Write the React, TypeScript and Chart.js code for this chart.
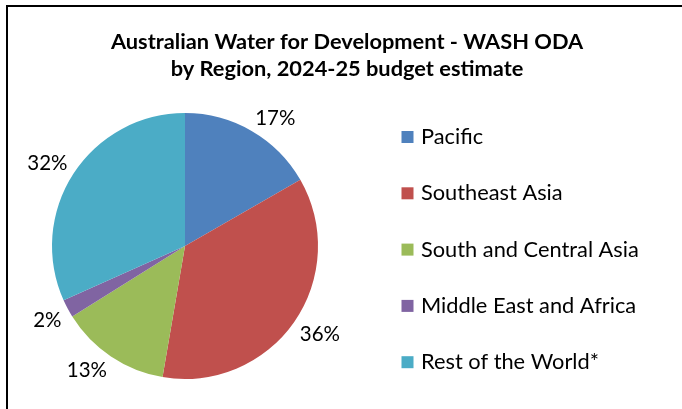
import React, { useEffect, useRef } from "react";
import { Chart, registerables } from "chart.js";

Chart.register(...registerables);

const TITLE_LINES = ["Australian Water for Development - WASH ODA", "by Region, 2024-25 budget estimate"];
const REGIONS = ["Pacific", "Southeast Asia", "South and Central Asia", "Middle East and Africa", "Rest of the World*"];
const SHARES = [16.7, 36.0, 13.4, 2.2, 31.7];
const COLORS = ["#4F81BD", "#C0504D", "#9BBB59", "#8064A2", "#4BACC6"];

const FONT = "Lato, 'Open Sans', sans-serif";

const decorPlugin = {
  id: "decor",
  afterDraw(chart: any) {
    const ctx = chart.ctx as CanvasRenderingContext2D;
    ctx.save();
    // frame
    ctx.fillStyle = "#000";
    ctx.fillRect(6, 5, 676, 2);
    ctx.fillRect(6, 5, 2, 404);
    // title
    ctx.fillStyle = "#000";
    ctx.font = `bold 21.8px ${FONT}`;
    ctx.textAlign = "center";
    ctx.textBaseline = "alphabetic";
    ctx.fillText(TITLE_LINES[0], 347, 48.5);
    ctx.fillText(TITLE_LINES[1], 347, 75.5);
    // data labels (outside end, nearest corner touching circle)
    const meta = chart.getDatasetMeta(0);
    const data = chart.data.datasets[0].data as number[];
    const total = data.reduce((a, b) => a + b, 0);
    ctx.font = `20.5px ${FONT}`;
    meta.data.forEach((arc: any, i: number) => {
      const p = arc.getProps(["x", "y", "startAngle", "endAngle", "outerRadius"], true);
      const mid = (p.startAngle + p.endAngle) / 2;
      const dx = Math.cos(mid);
      const dy = Math.sin(mid);
      const txt = Math.round((data[i] / total) * 100) + "%";
      const w = ctx.measureText(txt).width;
      const h = 15;
      const r = p.outerRadius + 7;
      const cx = p.x + dx * r + Math.sign(dx) * (w / 2);
      const cy = p.y + dy * r + Math.sign(dy) * (h / 2);
      ctx.fillText(txt, cx, cy + h / 2);
    });
    // legend
    const labels = chart.data.labels as string[];
    const cols = chart.data.datasets[0].backgroundColor as string[];
    ctx.textAlign = "left";
    ctx.font = `21.8px ${FONT}`;
    labels.forEach((lab, i) => {
      const base = 144 + i * 56.3;
      ctx.fillStyle = cols[i];
      ctx.fillRect(401.5, base - 13, 12, 12);
      ctx.fillStyle = "#000";
      ctx.fillText(lab, 421, base);
    });
    ctx.restore();
  },
};

export default function App() {
  const ref = useRef<HTMLCanvasElement>(null);
  useEffect(() => {
    document.body.style.margin = "0";
    const chart = new Chart(ref.current!, {
      type: "pie",
      data: {
        labels: REGIONS,
        datasets: [
          {
            data: SHARES,
            backgroundColor: COLORS,
            borderWidth: 0,
          },
        ],
      },
      options: {
        responsive: false,
        animation: false,
        layout: { padding: { left: 52, right: 364, top: 113, bottom: 30 } },
        plugins: {
          legend: { display: false },
          title: { display: false },
          tooltip: { enabled: false },
        },
      },
      plugins: [decorPlugin],
    });
    return () => chart.destroy();
  }, []);
  return (
    <div style={{ position: "absolute", left: 0, top: 0, width: 682, height: 409, background: "#fff" }}>
      <canvas ref={ref} width={682} height={409} style={{ width: 682, height: 409 }} />
    </div>
  );
}
